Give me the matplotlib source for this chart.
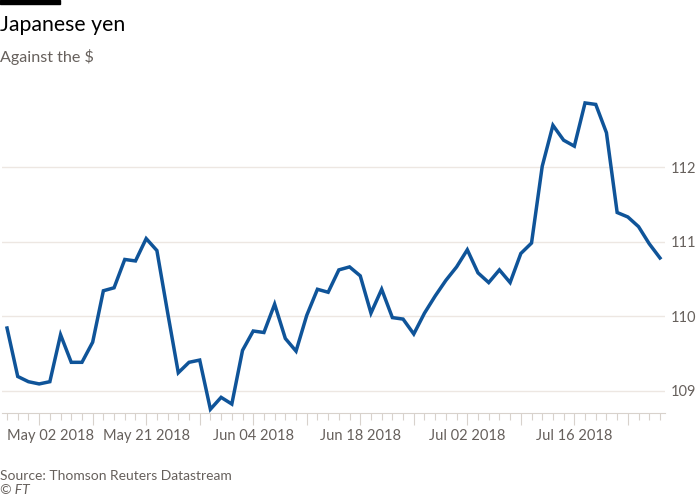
#!/usr/bin/env python3
"""Japanese yen against the $ (FT style line chart), May-Jul 2018."""
import pandas as pd
import matplotlib
matplotlib.use("Agg")
import matplotlib.pyplot as plt
from matplotlib.patches import Rectangle

# business days 2018-05-02 .. 2018-07-26
dates = pd.bdate_range("2018-05-02", "2018-07-26")
yen = [109.84, 109.19, 109.12, 109.09, 109.12, 109.75, 109.38, 109.38, 109.65, 110.34,
       110.38, 110.76, 110.74, 111.04, 110.88, 110.05, 109.24, 109.38, 109.41, 108.75,
       108.91, 108.82, 109.54, 109.80, 109.78, 110.16, 109.70, 109.53, 110.01, 110.36,
       110.32, 110.62, 110.66, 110.54, 110.04, 110.36, 109.98, 109.96, 109.76, 110.04,
       110.27, 110.48, 110.66, 110.89, 110.58, 110.45, 110.62, 110.45, 110.84, 110.98,
       112.01, 112.56, 112.36, 112.28, 112.86, 112.84, 112.46, 111.39, 111.33, 111.20,
       110.97, 110.78]
label_dates = ["2018-05-02", "2018-05-21", "2018-06-04", "2018-06-18", "2018-07-02", "2018-07-16"]
yticks = [109, 110, 111, 112]

title = "Japanese yen"
subtitle = "Against the $"
source = "Source: Thomson Reuters Datastream"

BLUE = "#0f5499"
GREY = "#66605c"
GRID = "#ede7e2"
TICK = "#d8d2cc"

plt.rcParams["font.family"] = ["Lato", "DejaVu Sans"]

fig = plt.figure(figsize=(7, 5), dpi=100)
ax = fig.add_axes([2 / 700, 87 / 500, 663 / 700, 320.5 / 500])

x = list(range(len(dates)))
ax.plot(x, yen, color=BLUE, linewidth=2.5, solid_joinstyle="miter", zorder=3)

ax.set_ylim(108.70, 113.0)
ax.set_xlim(-0.47, len(dates) - 1 + 0.47)

for s in ["top", "left", "right"]:
    ax.spines[s].set_visible(False)
ax.spines["bottom"].set_color(TICK)
ax.spines["bottom"].set_linewidth(0.8)

# y axis on the right, gridlines only
ax.yaxis.tick_right()
ax.set_yticks(yticks)
ax.set_yticklabels([str(v) for v in yticks])
ax.tick_params(axis="y", length=0, pad=4, labelsize=10.5, labelcolor=GREY)
ax.grid(axis="y", color=GRID, linewidth=1)
ax.set_axisbelow(True)

# x axis: short ticks every day, long ticks each Monday
mondays = [i for i, d in enumerate(dates) if d.weekday() == 0]
ax.set_xticks(mondays)
lbl_idx = {dates.get_loc(pd.Timestamp(d)): d for d in label_dates}
ax.set_xticklabels([pd.Timestamp(lbl_idx[i]).strftime("%b %d %Y") if i in lbl_idx else ""
                    for i in mondays])
ax.set_xticks(x, minor=True)
ax.tick_params(axis="x", which="major", length=8.6, width=0.8, color=TICK, pad=3,
               labelsize=10.5, labelcolor=GREY)
ax.tick_params(axis="x", which="minor", length=5.2, width=0.8, color=TICK)

# first label sits at a Wednesday, left-aligned
ax.annotate(pd.Timestamp(label_dates[0]).strftime("%b %d %Y"), xy=(0, 0),
            xycoords=("data", "axes fraction"), xytext=(0, -11.6),
            textcoords="offset points", ha="left", va="top",
            fontsize=10.5, color=GREY)

# header / footer
fig.patches.append(Rectangle((0, 1 - 4 / 500), 60 / 700, 4 / 500,
                             transform=fig.transFigure, color="black"))
fig.text(0.0, 1 - 31 / 500, title, fontsize=15.3, color="#000000", va="baseline")
fig.text(0.0, 1 - 62 / 500, subtitle, fontsize=11.6, color=GREY, va="baseline")
fig.text(0.0, 20 / 500, source, fontsize=10, color=GREY, va="baseline")
fig.text(0.0, 6 / 500, "\u00a9 FT", fontsize=10, color=GREY, va="baseline", style="italic")

fig.savefig("out.png", dpi=100)
